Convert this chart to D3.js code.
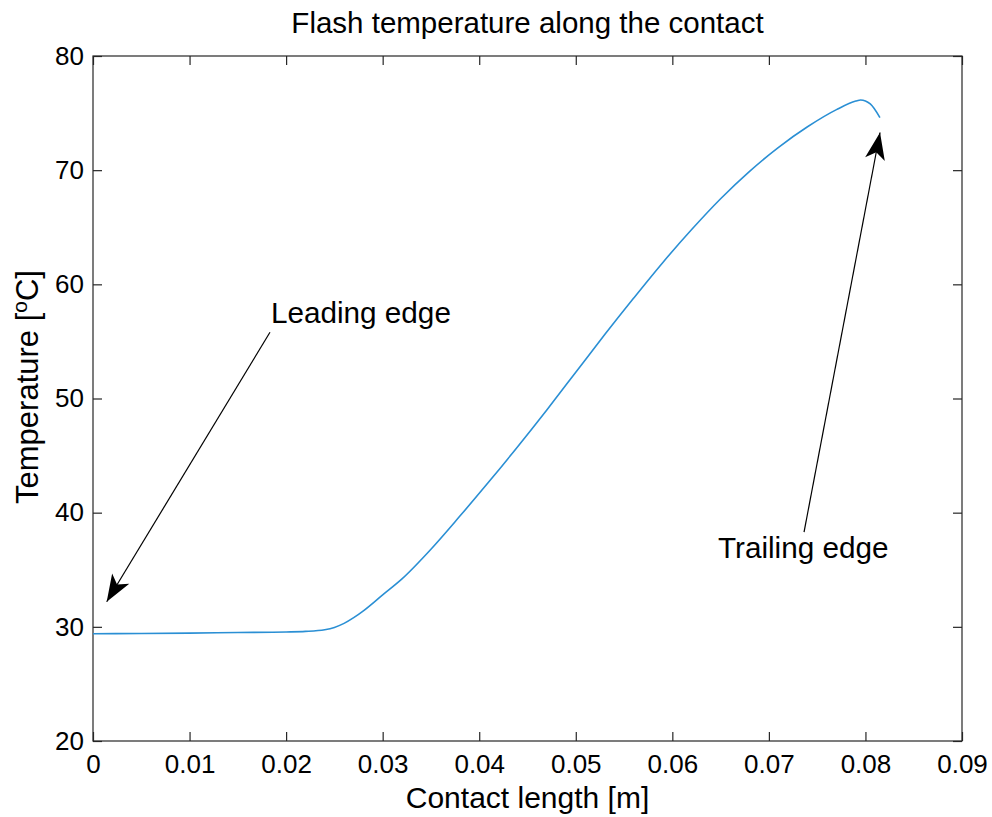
<!DOCTYPE html>
<html>
<head>
<meta charset="utf-8">
<script src="https://cdn.jsdelivr.net/npm/d3@7"></script>
<style>
  body { margin: 0; background: #fff; }
  text { font-family: "Liberation Sans", Arial, sans-serif; fill: #000; }
</style>
</head>
<body>
<div id="chart"></div>
<script>
// data
const contactLength = [0, 0.005, 0.01, 0.015, 0.02, 0.022, 0.024, 0.025, 0.026, 0.027, 0.028, 0.03,
  0.032, 0.035, 0.038, 0.041, 0.044, 0.047, 0.05, 0.053, 0.056, 0.059, 0.062, 0.065, 0.068,
  0.071, 0.074, 0.077, 0.079, 0.0795, 0.0805, 0.0815];
const temperature = [29.4, 29.42, 29.45, 29.5, 29.55, 29.6, 29.75, 29.95, 30.3, 30.8, 31.4, 32.8,
  34.2, 36.8, 39.7, 42.7, 45.8, 49.0, 52.3, 55.6, 58.8, 61.9, 64.8, 67.5, 69.9,
  72.0, 73.8, 75.3, 76.05, 76.15, 75.8, 74.6];
const xTicks = [0, 0.01, 0.02, 0.03, 0.04, 0.05, 0.06, 0.07, 0.08, 0.09];
const yTicks = [20, 30, 40, 50, 60, 70, 80];

// annotations: text, text position, arrow tail and tip (data units)
const annoText = ["Leading edge", "Trailing edge"];
const annoPos = [[0.01843, 56.6], [0.06473, 36.0]];
const arrowFrom = [[0.01833, 55.8], [0.07364, 38.3]];
const arrowTo = [[0.00142, 32.2], [0.08151, 73.3]];

const width = 992, height = 817;
const plot = {left: 93, right: 962, top: 56, bottom: 741};

const svg = d3.select("#chart").append("svg")
  .attr("width", width)
  .attr("height", height);

const x = d3.scaleLinear().domain([0, 0.09]).range([plot.left, plot.right]);
const y = d3.scaleLinear().domain([20, 80]).range([plot.bottom, plot.top]);

const tickLen = 9;
const axisColor = "#262626";

// bottom / left with labels, top / right ticks only
const xAxis = svg.append("g")
  .attr("transform", `translate(0,${plot.bottom})`)
  .call(d3.axisBottom(x).tickValues(xTicks).tickSizeInner(-tickLen).tickSizeOuter(0).tickPadding(14)
    .tickFormat(d => d === 0 ? "0" : d3.format(".2f")(d)));
const xAxisTop = svg.append("g")
  .attr("transform", `translate(0,${plot.top})`)
  .call(d3.axisTop(x).tickValues(xTicks).tickSizeInner(-tickLen).tickSizeOuter(0).tickFormat(""));
const yAxis = svg.append("g")
  .attr("transform", `translate(${plot.left},0)`)
  .call(d3.axisLeft(y).tickValues(yTicks).tickSizeInner(-tickLen).tickSizeOuter(0).tickPadding(9));
const yAxisRight = svg.append("g")
  .attr("transform", `translate(${plot.right},0)`)
  .call(d3.axisRight(y).tickValues(yTicks).tickSizeInner(-tickLen).tickSizeOuter(0).tickFormat(""));

[xAxis, xAxisTop, yAxis, yAxisRight].forEach(g => {
  g.select(".domain").remove();
  g.selectAll("line").attr("stroke", axisColor).attr("stroke-width", 1.2);
  g.selectAll("text")
    .style("font-family", "'Liberation Sans', Arial, sans-serif")
    .style("font-size", "26px")
    .attr("fill", "#000");
});

// box
svg.append("rect")
  .attr("x", plot.left)
  .attr("y", plot.top)
  .attr("width", plot.right - plot.left)
  .attr("height", plot.bottom - plot.top)
  .attr("fill", "none")
  .attr("stroke", axisColor)
  .attr("stroke-width", 1.2);

// curve
const data = contactLength.map((d, i) => [d, temperature[i]]);
svg.append("path")
  .datum(data)
  .attr("fill", "none")
  .attr("stroke", "#2a8fd4")
  .attr("stroke-width", 1.6)
  .attr("d", d3.line().x(d => x(d[0])).y(d => y(d[1])).curve(d3.curveMonotoneX));

// arrows
function arrowHead(x0, y0, x1, y1) {
  const ang = Math.atan2(y1 - y0, x1 - x0);
  const len = 27, half = 10, back = 20;
  const ux = Math.cos(ang), uy = Math.sin(ang);
  const px = -uy, py = ux;
  const bx = x1 - ux * len, by = y1 - uy * len;
  const nx = x1 - ux * back, ny = y1 - uy * back;
  return [[x1, y1], [bx + px * half, by + py * half], [nx, ny], [bx - px * half, by - py * half]];
}

annoText.forEach((t, i) => {
  const x0 = x(arrowFrom[i][0]), y0 = y(arrowFrom[i][1]);
  const x1 = x(arrowTo[i][0]), y1 = y(arrowTo[i][1]);
  svg.append("line")
    .attr("x1", x0).attr("y1", y0)
    .attr("x2", x1).attr("y2", y1)
    .attr("stroke", "#000")
    .attr("stroke-width", 1.2);
  svg.append("polygon")
    .attr("points", arrowHead(x0, y0, x1, y1).map(p => p.join(",")).join(" "))
    .attr("fill", "#000");
  svg.append("text")
    .attr("x", x(annoPos[i][0]))
    .attr("y", y(annoPos[i][1]))
    .style("font-size", "29.7px")
    .text(t);
});

// title
svg.append("text")
  .attr("x", (plot.left + plot.right) / 2)
  .attr("y", 33)
  .attr("text-anchor", "middle")
  .style("font-size", "29.5px")
  .text("Flash temperature along the contact");

// x label
svg.append("text")
  .attr("x", (plot.left + plot.right) / 2)
  .attr("y", 808)
  .attr("text-anchor", "middle")
  .style("font-size", "30px")
  .text("Contact length [m]");

// y label
const yl = svg.append("text")
  .attr("transform", `translate(38,387) rotate(-90)`)
  .attr("text-anchor", "middle")
  .style("font-size", "31px");
yl.append("tspan").text("Temperature [");
yl.append("tspan").attr("dy", -11).style("font-size", "21px").text("o");
yl.append("tspan").attr("dy", 11).text("C]");
</script>
</body>
</html>
